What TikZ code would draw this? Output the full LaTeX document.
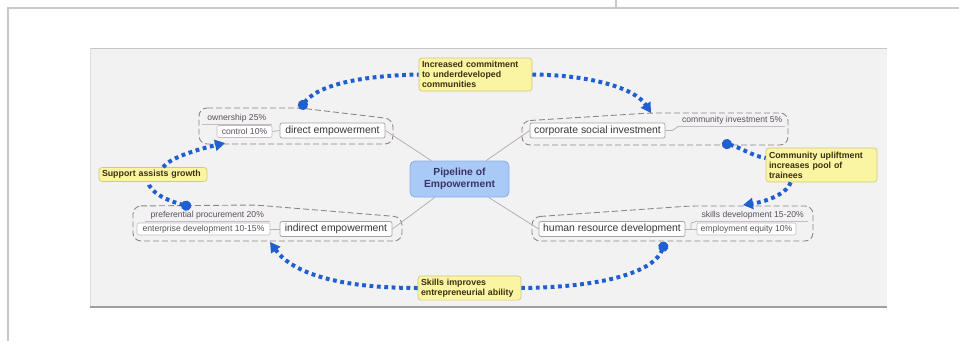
\documentclass[tikz,border=0pt]{standalone}
\usepackage{fontspec}
\setmainfont{Liberation Sans}
\usetikzlibrary{arrows.meta}
\definecolor{dotblue}{HTML}{1F5FCF}
\definecolor{framegray}{HTML}{C9C9C9}
\definecolor{panelbg}{HTML}{F3F2F3}
\definecolor{paneltop}{HTML}{C9C3C8}
\definecolor{panelbot}{HTML}{A69CA4}
\definecolor{bndgray}{HTML}{8E8588}
\definecolor{linkgray}{HTML}{B8B0B4}
\definecolor{maintext}{HTML}{3A3438}
\definecolor{mainborder}{HTML}{A8A0A6}
\definecolor{subtext}{HTML}{5A5060}
\definecolor{subborder}{HTML}{C4BCC2}
\definecolor{notefill}{HTML}{F9F5A3}
\definecolor{noteborder}{HTML}{D2CA7C}
\definecolor{notetext}{HTML}{3D2F0F}
\definecolor{cfill}{HTML}{A9C9F7}
\definecolor{cborder}{HTML}{88AEE8}
\definecolor{ctext}{HTML}{3B3468}
\tikzset{
  mainbox/.style={draw=mainborder, fill=white, rounded corners=2pt, line width=0.7pt,
    text=maintext, font=\fontsize{10.4}{12}\selectfont, inner xsep=2pt, inner ysep=1pt,
    minimum height=15pt},
  subbox/.style={draw=subborder, fill=white, rounded corners=2pt, line width=0.6pt,
    text=subtext, font=\fontsize{8.6}{10}\selectfont, inner xsep=2pt, inner ysep=1pt,
    minimum height=12pt},
  subtxt/.style={text=subtext, font=\fontsize{8.6}{10}\selectfont, inner xsep=2pt, inner ysep=1.5pt},
  subline/.style={draw=subborder, line width=0.7pt},
  notebox/.style={draw=noteborder, fill=notefill, rounded corners=3pt, line width=0.7pt,
    text=notetext, font=\fontsize{8.8}{10}\selectfont\bfseries, align=left, inner sep=3pt},
  centerbox/.style={draw=cborder, fill=cfill, rounded corners=5pt, line width=0.8pt,
    text=ctext, font=\fontsize{10.3}{12.5}\selectfont\bfseries, align=center,
    minimum width=99pt, minimum height=36pt},
  boundary/.style={draw=bndgray, line width=0.9pt, dash pattern=on 6pt off 3pt, rounded corners=8pt},
  linkline/.style={draw=linkgray, line width=0.8pt},
  flow/.style={draw=dotblue, line width=4pt, dash pattern=on 3.8pt off 3.6pt, line cap=butt},
  ballend/.style={{Circle[length=10pt,fill=dotblue]}-},
  tipend/.style={-{Triangle[length=10pt,width=11pt,fill=dotblue]}}
}
\begin{document}
\begin{tikzpicture}[x=1pt,y=-1pt]
\useasboundingbox (0,0) rectangle (959,341);
\fill[white] (0,0) rectangle (959,341);
% outer frame
\draw[framegray, line width=1.2pt] (8,341) -- (8,8) -- (959,8);
\draw[framegray, line width=1.2pt] (616,0) -- (616,8);
% panel
\fill[panelbg] (90,48) rectangle (887,307);
\draw[paneltop, line width=1pt] (90,48) -- (887,48);
\draw[paneltop!60, line width=0.8pt] (90,48) -- (90,307);
\draw[panelbot, line width=1.4pt] (90,307) -- (887,307);

% boundaries
\draw[boundary] (199,108) -- (300,108) -- (393,119) -- (393,144) -- (199,144) -- cycle;
\draw[boundary] (522,121) -- (650,113) -- (788,113) -- (788,145) -- (522,145) -- cycle;
\draw[boundary] (133,206) -- (255,205) -- (402,217) -- (402,241) -- (133,241) -- cycle;
\draw[boundary] (532,217) -- (690,206) -- (813,206) -- (813,241) -- (532,241) -- cycle;

% center
\node[centerbox] (pe) at (459.5,179) {Pipeline of\\Empowerment};

% main topics
\node[mainbox, minimum width=105pt] (de) at (332.5,130.5) {direct empowerment};
\node[mainbox, minimum width=135pt] (csi) at (597.5,130.5) {corporate social investment};
\node[mainbox, minimum width=112pt] (ie) at (336,229) {indirect empowerment};
\node[mainbox, minimum width=146pt] (hrd) at (612,229) {human resource development};

% subtopics top-left
\node[subtxt, anchor=south east, minimum width=70pt] (own) at (272,124) {ownership 25\%};
\draw[subline] (own.south west) -- (own.south east);
\node[subbox, minimum width=55pt] (ctl) at (244.5,131.5) {control 10\%};
% subtopics top-right
\node[subtxt, anchor=south west, minimum width=106pt] (ci) at (679,126) {community investment 5\%};
\draw[subline] (ci.south west) -- (ci.south east);
% subtopics bottom-left
\node[subtxt, anchor=south east, minimum width=125pt] (pp) at (270,221) {preferential procurement 20\%};
\draw[subline] (pp.south west) -- (pp.south east);
\node[subbox, minimum width=133pt] (ed) at (203.5,229) {enterprise development 10-15\%};
% subtopics bottom-right
\node[subtxt, anchor=south west, minimum width=111pt] (sd) at (697,221) {skills development 15-20\%};
\draw[subline] (sd.south west) -- (sd.south east);
\node[subbox, minimum width=99pt] (ee) at (746.5,229) {employment equity 10\%};

% links inside groups
\draw[linkline] (ctl.east) -- (de.west);
\draw[linkline] (csi.east) -- ++(7,0) -- (ci.south west);
\draw[linkline] (ed.east) -- (ie.west);
\draw[linkline] (hrd.east) -- (ee.west);
\draw[linkline] (691,229) -- (691,223) -- (sd.south west);

% links to center
\draw[linkline] (de.east) -- (pe);
\draw[linkline] (csi.west) -- (pe);
\draw[linkline] (ie.east) -- (pe);
\draw[linkline] (hrd.west) -- (pe);

% notes
\node[notebox, text width=107pt, minimum height=33pt] (n1) at (475.5,74.5) {Increased commitment\\to underdeveloped\\communities};
\node[notebox, text width=105pt, minimum height=34pt] (n2) at (821.5,165) {Community upliftment\\increases pool of\\trainees};
\node[notebox, text width=97pt, minimum height=22pt] (n3) at (469.5,288) {Skills improves\\entrepreneurial ability};
\node[notebox, text width=102pt, minimum height=14pt, inner ysep=1.5pt] (n4) at (153,174.5) {Support assists growth};

% flow coordinates
\coordinate (b1) at (300,109);
\coordinate (a1) at (651,113);
\coordinate (b2) at (722,143);
\coordinate (a2) at (743,205);
\coordinate (b3) at (665,242);
\coordinate (a3) at (270,242);
\coordinate (b4) at (191,207);
\coordinate (a4) at (225,143);

% flows
\draw[flow, ballend] (b1) .. controls (315,88) and (350,76) .. (n1.west);
\draw[flow, tipend] (n1.east) .. controls (590,75) and (635,88) .. (a1);
\draw[flow, ballend] (b2) .. controls (740,147) and (752,156) .. ([yshift=7pt]n2.west);
\draw[flow, tipend] ([xshift=25pt]n2.south west) .. controls (788,192) and (770,201) .. (a2);
\draw[flow, ballend] (b3) .. controls (655,270) and (610,287) .. (n3.east);
\draw[flow, tipend] (n3.west) .. controls (330,288) and (290,270) .. (a3);
\draw[flow, ballend] (b4) .. controls (165,200) and (150,192) .. ([xshift=-5pt]n4.south);
\draw[flow, tipend] ([xshift=10pt]n4.north) .. controls (170,158) and (195,150) .. (a4);
\end{tikzpicture}
\end{document}
